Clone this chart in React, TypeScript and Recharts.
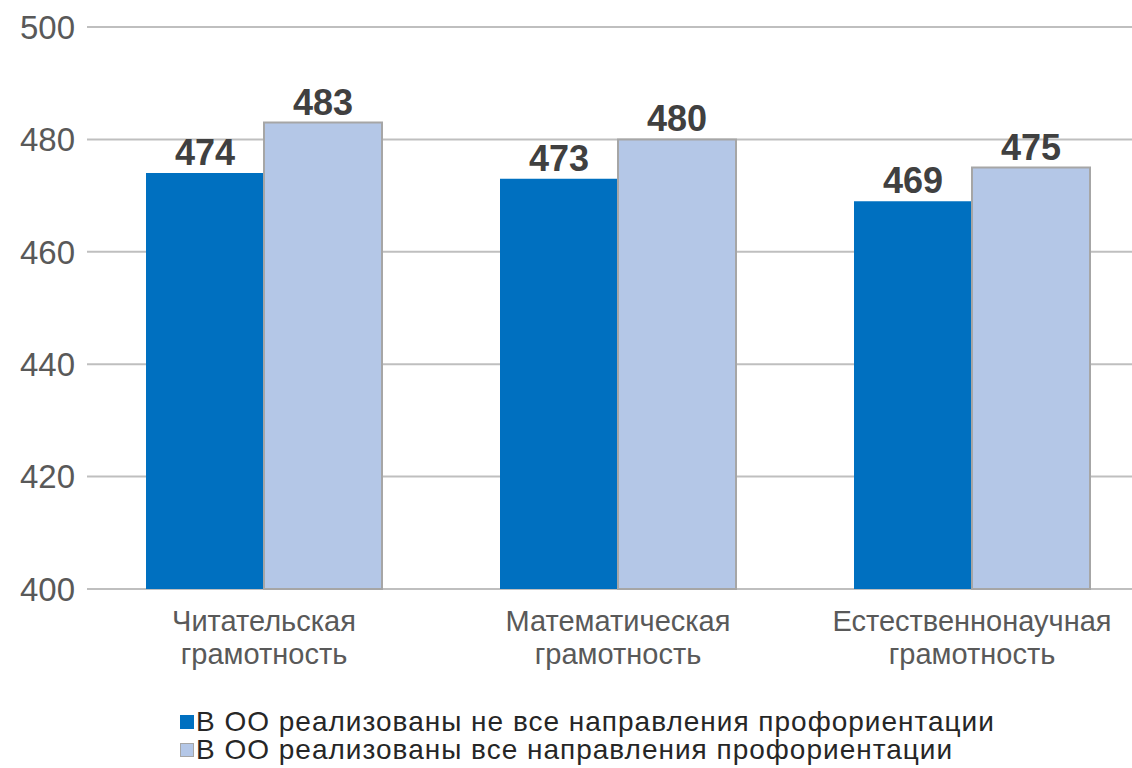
import React from 'react';
import { BarChart, Bar, XAxis, YAxis, CartesianGrid, Legend, LabelList } from 'recharts';

// values
const categories = ['Читательская грамотность', 'Математическая грамотность', 'Естественнонаучная грамотность'];
const notAllValues = [474, 473, 469];
const allValues = [483, 480, 475];
const yTicks = [400, 420, 440, 460, 480, 500];
const seriesNames = [
  'В ОО реализованы не все направления профориентации',
  'В ОО реализованы все направления профориентации',
];

const chartData = categories.map((name, i) => ({ name, notAll: notAllValues[i], all: allValues[i] }));

const FONT = '"Liberation Sans", Arial, sans-serif';

const CategoryTick = (props: any) => {
  const { x, y, payload } = props;
  const words = String(payload.value).split(' ');
  return (
    <text x={x} y={y} textAnchor="middle" fill="#595959" fontSize={29} fontFamily={FONT}>
      {words.map((w: string, i: number) => (
        <tspan key={i} x={x} dy={i === 0 ? 34 : 33}>{w}</tspan>
      ))}
    </text>
  );
};

const LegendBox = () => {
  const colors = ['#0070c0', '#b4c7e7'];
  return (
    <div style={{ fontFamily: FONT, fontSize: 28, letterSpacing: 1, color: '#262626', lineHeight: '28px', whiteSpace: 'nowrap' }}>
      {seriesNames.map((n, i) => (
        <div key={i} style={{ display: 'flex', alignItems: 'center', height: 28 }}>
          <span style={{ display: 'inline-block', width: 14, height: 14, background: colors[i], border: i === 1 ? '1px solid #a6a6a6' : 'none', marginRight: 2, boxSizing: 'border-box' }} />
          <span>{n}</span>
        </div>
      ))}
    </div>
  );
};

export default function App() {
  return (
    <div style={{ position: 'absolute', left: 0, top: 0, width: 1132, height: 768, overflow: 'hidden', background: '#fff' }}>
      <BarChart
        width={1160}
        height={768}
        data={chartData}
        margin={{ top: 27, right: 11, left: 0, bottom: 33 }}
        barCategoryGap={59}
        barGap={0}
      >
        <CartesianGrid vertical={false} stroke="#bfbfbf" strokeWidth={2} />
        <XAxis
          dataKey="name"
          axisLine={false}
          tickLine={false}
          tick={<CategoryTick />}
          height={90}
          interval={0}
        />
        <YAxis
          domain={[400, 500]}
          ticks={yTicks}
          axisLine={false}
          tickLine={false}
          tickSize={0}
          tickMargin={12}
          width={87}
          tick={{ fill: '#595959', fontSize: 33, fontFamily: FONT }}
        />
        <Legend
          verticalAlign="bottom"
          content={<LegendBox />}
          wrapperStyle={{ left: 180, top: 708, width: 950 }}
        />
        <Bar dataKey="notAll" fill="#0070c0" isAnimationActive={false}>
          <LabelList dataKey="notAll" position="top" offset={8} fill="#404040" fontSize={36} fontWeight="bold" fontFamily={FONT} />
        </Bar>
        <Bar dataKey="all" fill="#b4c7e7" stroke="#a6a6a6" strokeWidth={2} isAnimationActive={false}>
          <LabelList dataKey="all" position="top" offset={8} fill="#404040" fontSize={36} fontWeight="bold" fontFamily={FONT} />
        </Bar>
      </BarChart>
    </div>
  );
}
